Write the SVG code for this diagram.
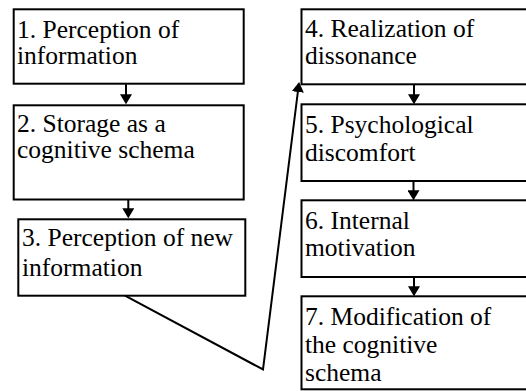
<svg xmlns="http://www.w3.org/2000/svg" width="526" height="391" viewBox="0 0 526 391">
<defs>
<marker id="ah" viewBox="0 0 10 12" refX="6" refY="6" markerWidth="10" markerHeight="12" markerUnits="userSpaceOnUse" orient="auto">
<path d="M0,0 L10,6 L0,12 z" fill="#000"/>
</marker>
<style>
.box{fill:#fff;stroke:#000;stroke-width:2}
.t{font-family:Liberation Serif,serif;font-size:25.5px;fill:#000}
.c{stroke:#000;stroke-width:2;fill:none}
</style>
</defs>
<rect width="526" height="391" fill="#fff"/>
<g id="n1"><rect class="box" x="13.7" y="9.3" width="230" height="74.4"/>
<text class="t" style="font-family:Liberation Serif,serif" x="17" y="38">1. Perception of</text>
<text class="t" style="font-family:Liberation Serif,serif" x="17" y="64">information</text></g>
<g id="n2"><rect class="box" x="13.7" y="105.3" width="230" height="94.2"/>
<text class="t" style="font-family:Liberation Serif,serif" x="17" y="132">2. Storage as a</text>
<text class="t" style="font-family:Liberation Serif,serif" x="17" y="158">cognitive schema</text></g>
<g id="n3"><rect class="box" x="18.3" y="219.3" width="227" height="76.4"/>
<text class="t" style="font-family:Liberation Serif,serif" x="22" y="246">3. Perception of new</text>
<text class="t" style="font-family:Liberation Serif,serif" x="22" y="276">information</text></g>
<g id="n4"><rect class="box" x="301.5" y="9.3" width="240" height="75"/>
<text class="t" style="font-family:Liberation Serif,serif" x="305" y="37">4. Realization of</text>
<text class="t" style="font-family:Liberation Serif,serif" x="305" y="64">dissonance</text></g>
<g id="n5"><rect class="box" x="301.5" y="104.3" width="240" height="76.7"/>
<text class="t" style="font-family:Liberation Serif,serif" x="305" y="133">5. Psychological</text>
<text class="t" style="font-family:Liberation Serif,serif" x="305" y="161">discomfort</text></g>
<g id="n6"><rect class="box" x="301.5" y="200.3" width="240" height="76.7"/>
<text class="t" style="font-family:Liberation Serif,serif" x="305" y="229">6. Internal</text>
<text class="t" style="font-family:Liberation Serif,serif" x="305" y="256">motivation</text></g>
<g id="n7"><rect class="box" x="301.5" y="296.3" width="240" height="93"/>
<text class="t" style="font-family:Liberation Serif,serif" x="305" y="325">7. Modification of</text>
<text class="t" style="font-family:Liberation Serif,serif" x="305" y="353">the cognitive</text>
<text class="t" style="font-family:Liberation Serif,serif" x="305" y="381">schema</text></g>
<g id="connectors">
<line class="c" x1="126" y1="84.3" x2="126" y2="100.3" marker-end="url(#ah)"/>
<line class="c" x1="128.3" y1="199.5" x2="128.3" y2="214.3" marker-end="url(#ah)"/>
<line class="c" x1="414" y1="84.3" x2="414" y2="100.3" marker-end="url(#ah)"/>
<line class="c" x1="413.5" y1="181" x2="413.5" y2="196.3" marker-end="url(#ah)"/>
<line class="c" x1="414" y1="277" x2="414" y2="292.3" marker-end="url(#ah)"/>
<polyline class="c" points="125,295.7 263,369.5 298.6,86" marker-end="url(#ah)"/>
</g>
</svg>
